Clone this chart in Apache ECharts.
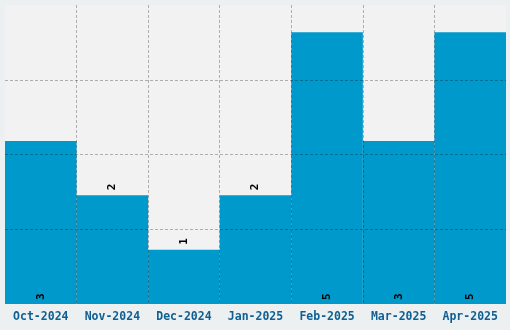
<!DOCTYPE html>
<html><head><meta charset="utf-8">
<script src="https://cdn.jsdelivr.net/npm/echarts@6/dist/echarts.min.js"></script>
<style>html,body{margin:0;padding:0;background:#edf0f1;}#c{width:510px;height:330px;}</style>
</head><body><div id="c"></div>
<script>
const categories = ['Oct-2024','Nov-2024','Dec-2024','Jan-2025','Feb-2025','Mar-2025','Apr-2025'];
const values = [3, 2, 1, 2, 5, 3, 5];

const chart = echarts.init(document.getElementById('c'), null, {renderer: 'canvas'});
const data = values.map(v => ({
  value: v,
  label: v > 2
    ? {position: 'insideBottom', distance: 4}
    : {position: 'top', distance: 5}
}));
chart.setOption({
  backgroundColor: '#edf0f1',
  animation: false,
  grid: {left: 5, right: 4, top: 5, bottom: 26, show: true, backgroundColor: '#f2f2f2', borderWidth: 0},
  xAxis: {
    type: 'category', data: categories, z: 5,
    axisLine: {show: false}, axisTick: {show: false},
    axisLabel: {interval: 0, color: '#0e5f93', fontFamily: 'DejaVu Sans Mono', fontWeight: 'bold', fontSize: 11.5, margin: 7},
    splitLine: {show: true, interval: 0, showMinLine: false, showMaxLine: false, lineStyle: {color: 'rgba(0,0,0,0.28)', type: [3, 2], width: 1}}
  },
  yAxis: {
    type: 'value', min: 0, max: 5.5, interval: 1.375, z: 5,
    axisLine: {show: false}, axisTick: {show: false}, axisLabel: {show: false},
    splitLine: {show: true, showMinLine: false, showMaxLine: false, lineStyle: {color: 'rgba(0,0,0,0.28)', type: [3, 2], width: 1}}
  },
  series: [{
    type: 'bar', data: data, barCategoryGap: 0, barGap: 0,
    itemStyle: {color: '#0099cc'},
    label: {show: true, rotate: 90, align: 'left', verticalAlign: 'middle', color: '#000', fontFamily: 'DejaVu Sans Mono', fontSize: 11, fontWeight: 'bold'}
  }]
});
</script></body></html>
